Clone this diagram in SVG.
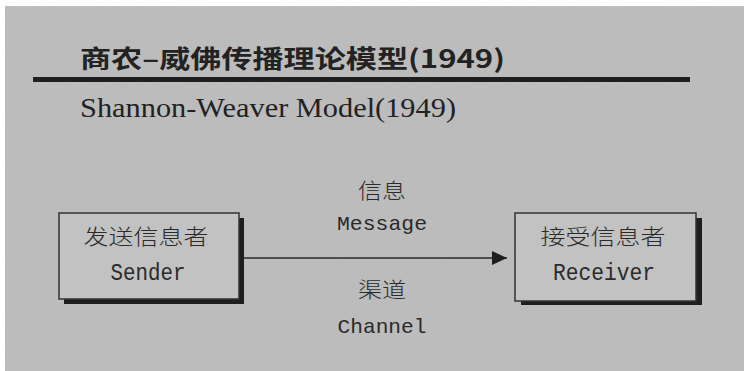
<svg xmlns="http://www.w3.org/2000/svg" width="744" height="371" viewBox="0 0 744 371">
  <defs>
    <filter id="grain" x="0" y="0" width="100%" height="100%">
      <feTurbulence type="fractalNoise" baseFrequency="0.9" numOctaves="2" seed="3" result="n"/>
      <feColorMatrix type="matrix" values="0 0 0 0 0.5  0 0 0 0 0.5  0 0 0 0 0.5  0.6 0 0 0 -0.25" in="n"/>
      <feComposite operator="in" in2="SourceGraphic"/>
    </filter>
    <marker id="arrow" markerWidth="16" markerHeight="14" refX="15" refY="7" orient="auto" markerUnits="userSpaceOnUse">
      <path d="M0,0 L15,7 L0,14 Z" fill="#1e1e1e"/>
    </marker>
  </defs>
  <style>
    .title { font-family: "Noto Sans CJK SC", "Liberation Sans", sans-serif; font-weight: bold; font-size: 25px; fill: #222; }
    .sub { font-family: "Liberation Serif", serif; font-size: 27px; fill: #222; }
    .cjk { font-family: "Noto Sans CJK SC", sans-serif; font-weight: 300; font-size: 21px; fill: #2a2a2a; }
    .mono { font-family: "Liberation Mono", monospace; font-size: 23px; fill: #2a2a2a; }
    .monos { font-family: "Liberation Mono", monospace; font-size: 21px; fill: #2a2a2a; }
    .box { fill: #c2c2c2; stroke: #333; stroke-width: 1.5; }
    .shadow { fill: #1e1e1e; }
  </style>
  <rect x="0" y="0" width="744" height="371" fill="#ffffff"/>
  <rect x="5" y="6" width="739" height="365" fill="#bcbcbc"/>
  <rect x="5" y="6" width="739" height="365" fill="#bcbcbc" filter="url(#grain)" opacity="0.5"/>

  <g id="title">
    <text class="title" x="80" y="68" textLength="425" lengthAdjust="spacingAndGlyphs">商农–威佛传播理论模型(1949)</text>
    <rect x="33" y="77" width="657" height="5" fill="#1e1e1e"/>
    <text class="sub" x="80" y="117" textLength="376" lengthAdjust="spacingAndGlyphs">Shannon-Weaver Model(1949)</text>
  </g>

  <g id="sender">
    <rect class="shadow" x="64" y="218" width="180" height="86"/>
    <rect class="box" x="59" y="213" width="180" height="86"/>
    <text class="cjk" x="146" y="244" text-anchor="middle" textLength="125" lengthAdjust="spacingAndGlyphs">发送信息者</text>
    <text class="mono" x="148" y="280" text-anchor="middle" textLength="75" lengthAdjust="spacingAndGlyphs">Sender</text>
  </g>

  <g id="receiver">
    <rect class="shadow" x="521" y="218" width="181" height="87"/>
    <rect class="box" x="515" y="213" width="181" height="88"/>
    <text class="cjk" x="603" y="244" text-anchor="middle" textLength="125" lengthAdjust="spacingAndGlyphs">接受信息者</text>
    <text class="mono" x="604" y="280" text-anchor="middle" textLength="102" lengthAdjust="spacingAndGlyphs">Receiver</text>
  </g>

  <g id="connectors">
    <line x1="244" y1="258" x2="507" y2="258" stroke="#2a2a2a" stroke-width="1.5" marker-end="url(#arrow)"/>
    <text class="cjk" x="382" y="198" text-anchor="middle" textLength="48" lengthAdjust="spacingAndGlyphs">信息</text>
    <text class="monos" x="382" y="230" text-anchor="middle" textLength="90" lengthAdjust="spacingAndGlyphs">Message</text>
    <text class="cjk" x="382" y="297" text-anchor="middle" textLength="48" lengthAdjust="spacingAndGlyphs">渠道</text>
    <text class="monos" x="382" y="333" text-anchor="middle" textLength="89" lengthAdjust="spacingAndGlyphs">Channel</text>
  </g>
</svg>
